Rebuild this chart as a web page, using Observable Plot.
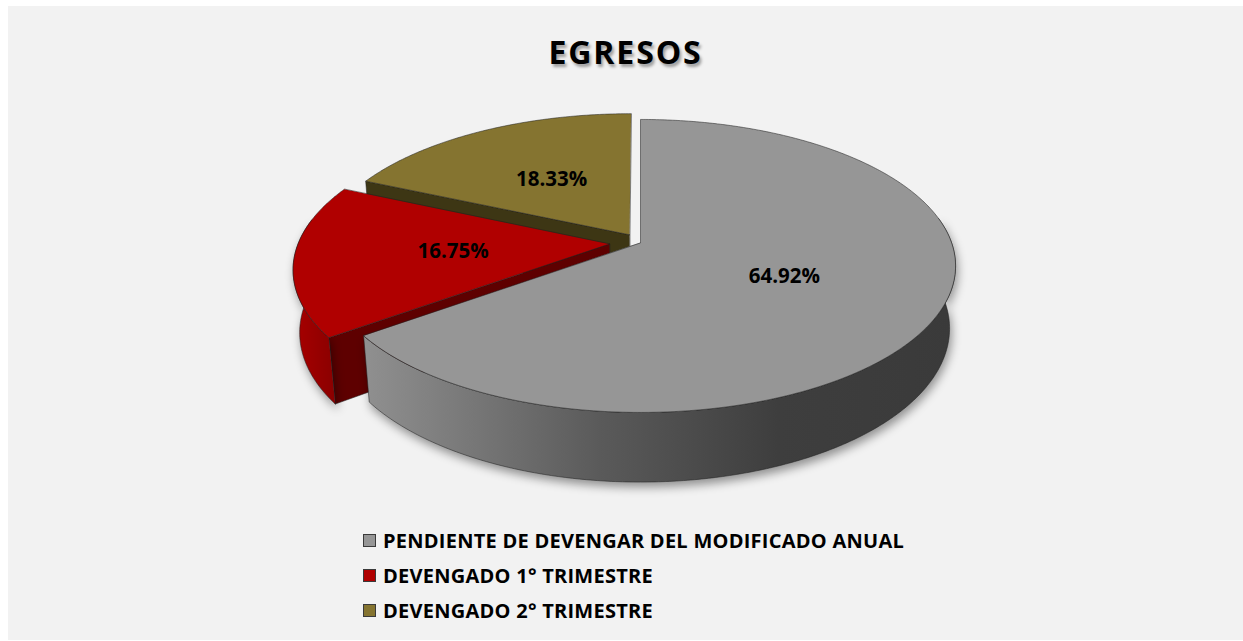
<!DOCTYPE html>
<html>
<head>
<meta charset="utf-8">
<script src="https://cdn.jsdelivr.net/npm/d3@7"></script>
<script src="https://cdn.jsdelivr.net/npm/@observablehq/plot@0.6"></script>
<style>
html, body { margin: 0; padding: 0; background: #ffffff; width: 1243px; height: 641px; overflow: hidden; }
#panel { position: absolute; left: 8px; top: 6px; width: 1235px; height: 634px; background: #f2f2f2;
  font-family: "Open Sans", "Liberation Sans", sans-serif; color: #000; }
#title { position: absolute; top: 26px; left: 0; width: 100%; text-align: center; font-weight: 700;
  font-size: 32px; line-height: 40px; text-shadow: 2px 3px 3px rgba(0,0,0,0.35); white-space: nowrap; }
#title span { display: inline-block; }
#chart { position: absolute; left: 0; top: 84px; }
#legend { position: absolute; left: 355px; top: 517px; }
.item { display: flex; align-items: center; height: 35px; font-weight: 700; font-size: 20px; white-space: nowrap; }
.sw { width: 11px; height: 11px; border: 1px solid #3a3a3a; margin-right: 7px; flex: none; }
</style>
</head>
<body>
<div id="panel">
  <div id="title"><span id="titleText"></span></div>
  <div id="chart"></div>
  <div id="legend"></div>
</div>
<script>
// ---------- data ----------
const chartTitle = "EGRESOS";
const categories = [
  "PENDIENTE DE DEVENGAR DEL MODIFICADO ANUAL",
  "DEVENGADO 1° TRIMESTRE",
  "DEVENGADO 2° TRIMESTRE"
];
const values = [64.92, 16.75, 18.33];
const valueLabels = ["64.92%", "16.75%", "18.33%"];

// ---------- style ----------
const topColors = ["#969696", "#b00000", "#857430"];
const sideFills = ["url(#graySide)", "url(#redSide)", "#5e5220"];
const faceColors = ["#4a4a4a", "#5e0000", "#3d3614"];
const explode = [0, 0.10, 0.065];

// ---------- layout / 3D camera ----------
const W = 1235, H = 420;
const k = 311;            // pixels per pie radius
const cx = 632, cy = 152; // pie centre inside the svg
const sinA = 0.459, cosA = Math.sqrt(1 - sinA * sinA);
const D = cosA / 0.16;    // camera distance (in radii)
const h = 0.228;          // pie thickness (in radii)

function proj(x, y, z) {
  const yp = y * cosA + z * sinA;
  const zp = z * cosA - y * sinA;
  const s = 1 / (1 + zp / D);
  return {x: x * s, y: yp * s};
}
const total = d3.sum(values);
let acc = 0;
const slices = values.map((v, i) => {
  const a0 = acc / total * 2 * Math.PI; acc += v;
  const a1 = acc / total * 2 * Math.PI;
  return {i, a0, a1, mid: (a0 + a1) / 2};
});
function pt(sl, r, a, y) {
  const e = explode[sl.i];
  const ox = e * Math.sin(sl.mid), oz = e * Math.cos(sl.mid);
  return proj(ox + r * Math.sin(a), y, oz + r * Math.cos(a));
}
function arc(sl, a0, a1, y) {
  const n = Math.max(2, Math.ceil(Math.abs(a1 - a0) / 0.01));
  return d3.range(n + 1).map(j => pt(sl, 1, a0 + (a1 - a0) * j / n, y));
}
function topFace(sl) { return [pt(sl, 0, 0, 0), ...arc(sl, sl.a0, sl.a1, 0)]; }
function sideFace(sl) {
  const lo = 80 * Math.PI / 180, hi = 280 * Math.PI / 180;
  const b0 = Math.max(sl.a0, lo), b1 = Math.min(sl.a1, hi);
  if (b1 <= b0) return null;
  return [...arc(sl, b0, b1, 0), ...arc(sl, b1, b0, -h)];
}
function radialFace(sl, a) {
  return [pt(sl, 0, a, 0), pt(sl, 1, a, 0), pt(sl, 1, a, -h), pt(sl, 0, a, -h)];
}

const edge = {stroke: "#1e1e1e", strokeWidth: 0.7, strokeOpacity: 0.75, curve: "linear-closed"};
const marks = [];
// draw far to near: gold, red, gray
const [gray, red, gold] = slices;
marks.push(Plot.line(radialFace(gray, gray.a0), {x: "x", y: "y", fill: faceColors[0], stroke: "none", curve: "linear-closed"}));
marks.push(Plot.line(radialFace(gold, gold.a0), {x: "x", y: "y", fill: faceColors[2], ...edge}));
marks.push(Plot.line(topFace(gold), {x: "x", y: "y", fill: topColors[2], ...edge}));
marks.push(Plot.line(radialFace(red, red.a0), {x: "x", y: "y", fill: faceColors[1], ...edge}));
const redSide = sideFace(red);
if (redSide) marks.push(Plot.line(redSide, {x: "x", y: "y", fill: sideFills[1], ...edge, className: "sidemark"}));
marks.push(Plot.line(topFace(red), {x: "x", y: "y", fill: topColors[1], ...edge}));
const graySide = sideFace(gray);
if (graySide) marks.push(Plot.line(graySide, {x: "x", y: "y", fill: sideFills[0], ...edge, className: "sidemark"}));
marks.push(Plot.line(topFace(gray), {x: "x", y: "y", fill: topColors[0], ...edge}));

const labelPts = slices.map(sl => ({...pt(sl, 0.5, sl.mid, 0), label: valueLabels[sl.i]}));
marks.push(Plot.text(labelPts, {x: "x", y: "y", text: "label", fontSize: 20.5, fontWeight: "bold", fill: "#000",
  fontFamily: "Open Sans, Liberation Sans, sans-serif"}));

const plot = Plot.plot({
  width: W, height: H,
  margin: 0,
  style: {background: "transparent", overflow: "visible"},
  x: {domain: [-cx / k, (W - cx) / k], axis: null},
  y: {domain: [-(H - cy) / k, cy / k], axis: null},
  marks
});

// gradients for the 3D sides
const ns = "http://www.w3.org/2000/svg";
const defs = document.createElementNS(ns, "defs");
function grad(id, stops) {
  const g = document.createElementNS(ns, "linearGradient");
  g.setAttribute("id", id);
  g.setAttribute("x1", "0"); g.setAttribute("x2", "1"); g.setAttribute("y1", "0"); g.setAttribute("y2", "0");
  stops.forEach(([o, c]) => {
    const s = document.createElementNS(ns, "stop");
    s.setAttribute("offset", o); s.setAttribute("stop-color", c);
    g.appendChild(s);
  });
  defs.appendChild(g);
}
grad("graySide", [[0, "#909090"], [0.4, "#5a5a5a"], [0.7, "#3e3e3e"], [1, "#3a3a3a"]]);
grad("redSide", [[0, "#a80000"], [1, "#8a0000"]]);
plot.insertBefore(defs, plot.firstChild);
plot.querySelectorAll("g.sidemark, .sidemark").forEach(g => { g.style.filter = "drop-shadow(2px 5px 5px rgba(0,0,0,0.4))"; });

document.getElementById("chart").appendChild(plot);

// title
const tt = document.getElementById("titleText");
tt.textContent = chartTitle;

// legend
const legend = d3.select("#legend");
categories.forEach((c, i) => {
  const row = legend.append("div").attr("class", "item");
  row.append("div").attr("class", "sw").style("background", topColors[i]);
  row.append("span").text(c);
});
// fit legend text width to the reference (longest entry ≈ 521px)
const spans = document.querySelectorAll("#legend .item span");
const w0 = spans[0].getBoundingClientRect().width;
const ls = (521 - w0) / categories[0].length;
spans.forEach(s => s.style.letterSpacing = ls + "px");
const tw = tt.getBoundingClientRect().width;
tt.style.letterSpacing = ((154 - tw) / chartTitle.length) + "px";
</script>
</body>
</html>
